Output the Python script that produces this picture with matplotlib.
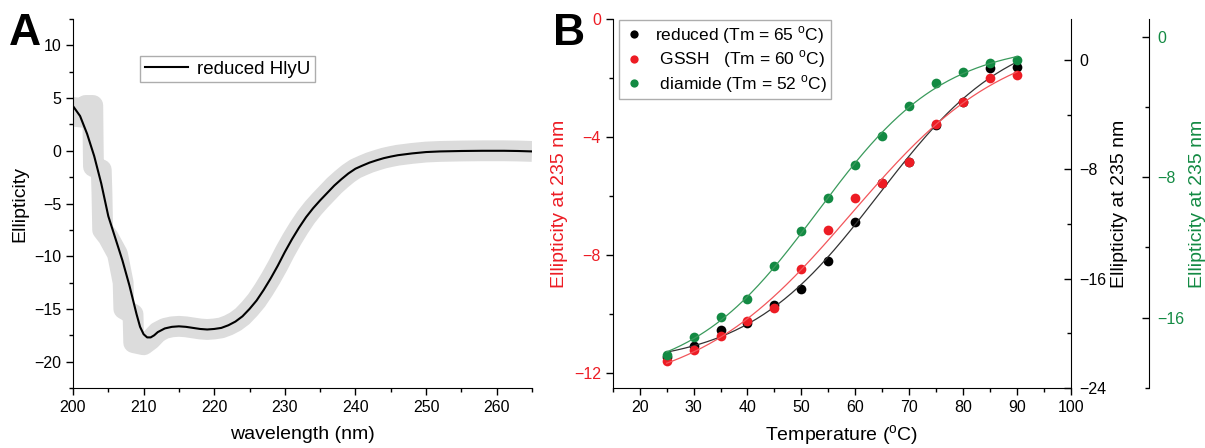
import numpy as np
import matplotlib
matplotlib.use("Agg")
import matplotlib.pyplot as plt
from matplotlib.ticker import MultipleLocator

plt.rcParams['font.family'] = ['Liberation Sans', 'DejaVu Sans']
plt.rcParams['mathtext.fontset'] = 'custom'
plt.rcParams['mathtext.rm'] = 'Liberation Sans'

# ---- panel A: CD spectrum (smoothed curve + raw trace) ----
wavelength = [200, 201, 202, 203, 204, 205, 206, 207, 208, 209, 209.5, 210, 210.5,
              211, 211.5, 212, 213, 214, 215, 216, 217, 218, 219, 220, 221, 222,
              223, 224, 225, 226, 227, 228, 229, 230, 231, 232, 233, 234, 235,
              236, 237, 238, 239, 240, 241, 242, 243, 244, 245, 246, 248, 250,
              252, 255, 258, 261, 263, 265]
ellipticity = [4.24, 3.3, 1.6, -0.5, -3.1, -6.2, -8.3, -10.4, -12.8, -15.5, -16.7, -17.4, -17.7,
               -17.7, -17.5, -17.2, -16.85, -16.7, -16.65, -16.7, -16.8, -16.9, -16.95, -16.9, -16.8, -16.55,
               -16.2, -15.7, -15.0, -14.2, -13.2, -12.1, -10.9, -9.6, -8.4, -7.3, -6.3, -5.45, -4.7,
               -4.0, -3.3, -2.7, -2.15, -1.7, -1.4, -1.12, -0.9, -0.7, -0.55, -0.42, -0.25, -0.12,
               -0.06, -0.02, 0.0, 0.0, -0.02, -0.06]
raw_head_wl = [199.9, 200.2, 201.3, 201.8, 202.8, 202.85, 202.9, 204.0, 204.1, 204.2, 205.0,
               206.3, 206.6, 207.1, 207.2, 208.5, 208.6, 210.0, 211.0, 212.0]
raw_head_ell = [2.3, 4.1, 4.0, 4.3, 4.3, 1.0, -1.5, -1.8, -4.0, -7.5, -8.2,
                -9.8, -10.8, -12.5, -15.0, -15.5, -18.2, -18.4, -17.9, -17.2]

# ---- panel B: thermal melts ----
temperature = [25, 30, 35, 40, 45, 50, 55, 60, 65, 70, 75, 80, 85, 90]
reduced = [-21.7, -20.96, -19.74, -19.22, -17.91, -16.76, -14.74, -11.88,
           -9.0, -7.47, -4.73, -3.07, -0.61, -0.48]
gssh = [-11.6, -11.22, -10.73, -10.23, -9.8, -8.48, -7.15, -6.06,
        -5.55, -4.84, -3.57, -2.8, -2.01, -1.9]
diamide = [-18.1, -17.12, -15.98, -14.92, -13.07, -11.06, -9.18, -7.33,
           -5.64, -3.94, -2.63, -2.01, -1.51, -1.34]
legend_labels = ['reduced (Tm = 65 $^{\\rm o}$C)',
                 ' GSSH   (Tm = 60 $^{\\rm o}$C)',
                 ' diamide (Tm = 52 $^{\\rm o}$C)']

RED = '#ed1c24'
GREEN = '#138a43'


def boltzmann(x, a1, a2, x0, dx):
    return a2 + (a1 - a2) / (1 + np.exp((x - x0) / dx))


def fit_boltzmann(x, y):
    # grid over x0/dx, linear least squares for the plateaus
    x = np.asarray(x, float)
    y = np.asarray(y, float)
    best = None
    for x0 in np.arange(35, 85, 0.25):
        for dx in np.arange(3, 25, 0.25):
            f = 1 / (1 + np.exp((x - x0) / dx))
            A = np.column_stack([f, 1 - f])
            coef = np.linalg.lstsq(A, y, rcond=None)[0]
            err = np.sum((A @ coef - y) ** 2)
            if best is None or err < best[0]:
                best = (err, coef[0], coef[1], x0, dx)
    return best[1:]


def style_ticks(ax, size):
    ax.tick_params(which='major', length=5, width=1, labelsize=size)
    ax.tick_params(which='minor', length=3, width=1)


W, H = 1205, 448
fig = plt.figure(figsize=(W / 100, H / 100), dpi=100)

# ---------------- Panel A ----------------
axA = fig.add_axes([73 / W, 60 / H, 459 / W, 369 / H])
raw_x = raw_head_wl + [w for w in wavelength if w >= 213]
raw_y = raw_head_ell + [e for w, e in zip(wavelength, ellipticity) if w >= 213]
axA.plot(raw_x, raw_y, color='#dcdcdc', lw=15, solid_capstyle='butt',
         solid_joinstyle='round', zorder=1)
axA.plot(wavelength, ellipticity, color='black', lw=1.5, label='reduced HlyU', zorder=2)
axA.set_xlim(200, 265)
axA.set_ylim(-22.5, 12.5)
axA.xaxis.set_major_locator(MultipleLocator(10))
axA.xaxis.set_minor_locator(MultipleLocator(5))
axA.yaxis.set_major_locator(MultipleLocator(5))
axA.yaxis.set_minor_locator(MultipleLocator(2.5))
axA.spines['top'].set_visible(False)
axA.spines['right'].set_visible(False)
style_ticks(axA, 11.5)
axA.set_xlabel('wavelength (nm)', fontsize=14, labelpad=8)
axA.set_ylabel('Ellipticity', fontsize=14)
axA.legend(loc='upper left', bbox_to_anchor=(0.146, 0.9), borderaxespad=0,
           fontsize=13.5, frameon=True, fancybox=False, edgecolor='#999999',
           handlelength=2.3, handletextpad=0.5, borderpad=0.25)

# ---------------- Panel B ----------------
axB = fig.add_axes([612.7 / W, 60 / H, 458.3 / W, 369 / H])
tb = axB.twinx()
tg = axB.twinx()
tg.spines['right'].set_position(('outward', 56.4))
tb.set_zorder(0)
axB.set_zorder(1)
tg.set_zorder(2)
axB.patch.set_visible(False)

t_fit = np.linspace(min(temperature), max(temperature), 200)
hb = tb.plot(temperature, reduced, 'o', color='black', ms=7, mec='none', label=legend_labels[0])[0]
tb.plot(t_fit, boltzmann(t_fit, *fit_boltzmann(temperature, reduced)), color='#333333', lw=0.9)
hr = axB.plot(temperature, gssh, 'o', color=RED, ms=7, mec='none', label=legend_labels[1])[0]
axB.plot(t_fit, boltzmann(t_fit, *fit_boltzmann(temperature, gssh)), color='#f2565b', lw=0.9)
hg = tg.plot(temperature, diamide, 'o', color=GREEN, ms=7, mec='none', label=legend_labels[2])[0]
tg.plot(t_fit, boltzmann(t_fit, *fit_boltzmann(temperature, diamide)), color='#3a9a5c', lw=0.9)

axB.set_xlim(15, 100)
axB.set_ylim(-12.5, 0)
tb.set_ylim(-24, 3)
tg.set_ylim(-20, 1)
axB.xaxis.set_major_locator(MultipleLocator(10))
axB.xaxis.set_minor_locator(MultipleLocator(5))
axB.yaxis.set_major_locator(MultipleLocator(4))
axB.yaxis.set_minor_locator(MultipleLocator(2))
for t in (tb, tg):
    t.yaxis.set_major_locator(MultipleLocator(8))
    t.yaxis.set_minor_locator(MultipleLocator(4))
    for s in ('top', 'left', 'bottom'):
        t.spines[s].set_visible(False)
axB.spines['top'].set_visible(False)
axB.spines['right'].set_visible(False)

style_ticks(axB, 11.5)
axB.tick_params(axis='y', which='both', labelcolor=RED)
for t, c in ((tb, 'black'), (tg, GREEN)):
    style_ticks(t, 11.5)
    t.tick_params(axis='y', which='both', direction='in', labelcolor=c, pad=6)

axB.set_xlabel('Temperature ($^{\\rm o}$C)', fontsize=14, labelpad=6)
axB.set_ylabel('Ellipticity at 235 nm', fontsize=14, color=RED)
tb.set_ylabel('Ellipticity at 235 nm', fontsize=14, color='black', labelpad=3)
tg.set_ylabel('Ellipticity at 235 nm', fontsize=14, color=GREEN, labelpad=3)

tg.legend(handles=[hb, hr, hg], loc='upper left', bbox_to_anchor=(0.0144, 0.997),
          borderaxespad=0, fontsize=12.5, frameon=True, fancybox=False,
          edgecolor='#999999', handlelength=1.2, handletextpad=0.6,
          labelspacing=0.15, borderpad=0.25, markerscale=0.85)

fig.text(9 / W, 1 - 45 / H, 'A', fontsize=32, fontweight='bold', va='baseline')
fig.text(553 / W, 1 - 45 / H, 'B', fontsize=32, fontweight='bold', va='baseline')

fig.savefig('out.png', dpi=100, facecolor='white')
